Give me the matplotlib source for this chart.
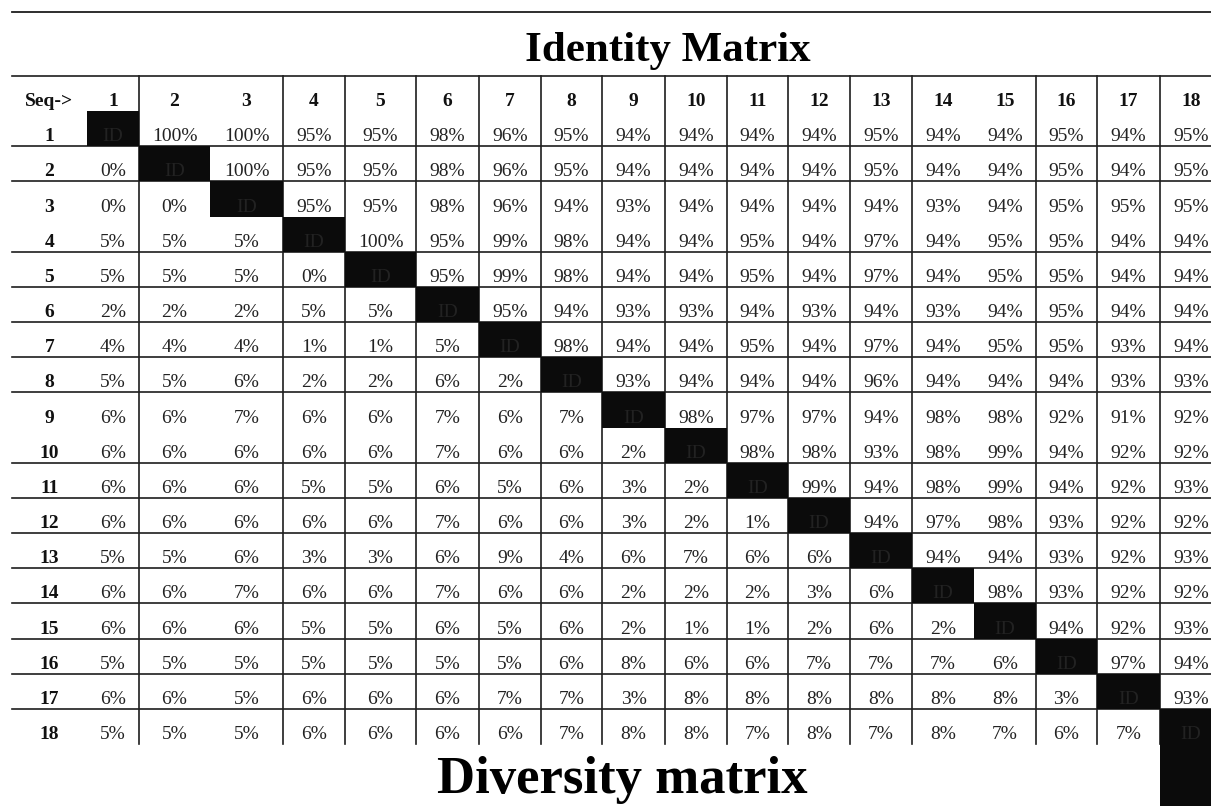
import matplotlib
matplotlib.use("Agg")
import matplotlib.pyplot as plt
from matplotlib.patches import Rectangle
import numpy as np

# sequence labels
seqs = [str(i) for i in range(1, 19)]

# identity (%) above the diagonal, row i -> columns i+1..18
identity_upper = [
    [100, 100, 95, 95, 98, 96, 95, 94, 94, 94, 94, 95, 94, 94, 95, 94, 95],
    [100, 95, 95, 98, 96, 95, 94, 94, 94, 94, 95, 94, 94, 95, 94, 95],
    [95, 95, 98, 96, 94, 93, 94, 94, 94, 94, 93, 94, 95, 95, 95],
    [100, 95, 99, 98, 94, 94, 95, 94, 97, 94, 95, 95, 94, 94],
    [95, 99, 98, 94, 94, 95, 94, 97, 94, 95, 95, 94, 94],
    [95, 94, 93, 93, 94, 93, 94, 93, 94, 95, 94, 94],
    [98, 94, 94, 95, 94, 97, 94, 95, 95, 93, 94],
    [93, 94, 94, 94, 96, 94, 94, 94, 93, 93],
    [98, 97, 97, 94, 98, 98, 92, 91, 92],
    [98, 98, 93, 98, 99, 94, 92, 92],
    [99, 94, 98, 99, 94, 92, 93],
    [94, 97, 98, 93, 92, 92],
    [94, 94, 93, 92, 93],
    [98, 93, 92, 92],
    [94, 92, 93],
    [97, 94],
    [93],
    [],
]

# diversity (%) below the diagonal, row i -> columns 1..i-1
diversity_lower = [
    [],
    [0],
    [0, 0],
    [5, 5, 5],
    [5, 5, 5, 0],
    [2, 2, 2, 5, 5],
    [4, 4, 4, 1, 1, 5],
    [5, 5, 6, 2, 2, 6, 2],
    [6, 6, 7, 6, 6, 7, 6, 7],
    [6, 6, 6, 6, 6, 7, 6, 6, 2],
    [6, 6, 6, 5, 5, 6, 5, 6, 3, 2],
    [6, 6, 6, 6, 6, 7, 6, 6, 3, 2, 1],
    [5, 5, 6, 3, 3, 6, 9, 4, 6, 7, 6, 6],
    [6, 6, 7, 6, 6, 7, 6, 6, 2, 2, 2, 3, 6],
    [6, 6, 6, 5, 5, 6, 5, 6, 2, 1, 1, 2, 6, 2],
    [5, 5, 5, 5, 5, 5, 5, 6, 8, 6, 6, 7, 7, 7, 6],
    [6, 6, 5, 6, 6, 6, 7, 7, 3, 8, 8, 8, 8, 8, 8, 3],
    [5, 5, 5, 6, 6, 6, 6, 7, 8, 8, 7, 8, 7, 8, 7, 6, 7],
]

W, H = 1211, 806
fig = plt.figure(figsize=(W / 100, H / 100), dpi=100)
ax = fig.add_axes([0, 0, 1, 1])
ax.set_xlim(0, W)
ax.set_ylim(H, 0)
ax.axis("off")

serif = ["Liberation Serif", "DejaVu Serif"]
line_c = "#1e1e1e"

# table grid (pixel layout)
col_edges = [12, 87, 139, 210, 283, 345, 416, 479, 541, 602, 665, 727, 788,
             850, 912, 974, 1036, 1097, 1160, 1222]
row_edges = np.linspace(76, 744, 20)
no_hline = {1, 4, 10, 19}
no_vline = {0, 1, 3, 15, 19}

ax.plot([12, W], [12, 12], color=line_c, lw=1.3)
for k, y in enumerate(row_edges):
    if k not in no_hline:
        ax.plot([12, W], [y, y], color=line_c, lw=1.2, zorder=1)
for k, x in enumerate(col_edges):
    if k not in no_vline:
        ax.plot([x, x], [row_edges[0], row_edges[-1]], color=line_c, lw=1.2, zorder=1)

def cx(c):
    return (col_edges[c] + col_edges[c + 1]) / 2

def base(r):
    return row_edges[r + 1] - 5

# header row
ax.text(cx(0), base(0), "Seq->", ha="center", va="baseline", family=serif,
        fontsize=14, fontweight="bold", color="#111111")
for j, s in enumerate(seqs):
    ax.text(cx(j + 1), base(0), s, ha="center", va="baseline", family=serif,
            fontsize=14, fontweight="bold", color="#111111")

# body
n = len(seqs)
for i in range(n):
    r = i + 1
    ax.text(cx(0), base(r), seqs[i], ha="center", va="baseline", family=serif,
            fontsize=14, fontweight="bold", color="#111111")
    cells = [f"{v}%" for v in diversity_lower[i]] + ["ID"] + [f"{v}%" for v in identity_upper[i]]
    for j, txt in enumerate(cells):
        c = j + 1
        if txt == "ID":
            y0 = row_edges[r]
            y1 = H if i == n - 1 else row_edges[r + 1]
            ax.add_patch(Rectangle((col_edges[c], y0), col_edges[c + 1] - col_edges[c], y1 - y0,
                                   facecolor="#0b0b0b", edgecolor="none", zorder=2))
            ax.text(cx(c), base(r), txt, ha="center", va="baseline", family=serif,
                    fontsize=14, color="#222222", zorder=3)
        else:
            ax.text(cx(c), base(r), txt, ha="center", va="baseline", family=serif,
                    fontsize=14, color="#222222", zorder=3)

ax.text(668, 61, "Identity Matrix", ha="center", va="baseline", family=serif,
        fontsize=31, fontweight="bold", color="black")
ax.text(622, 793, "Diversity matrix", ha="center", va="baseline", family=serif,
        fontsize=38, fontweight="bold", color="black")

fig.savefig("out.png", dpi=100)
